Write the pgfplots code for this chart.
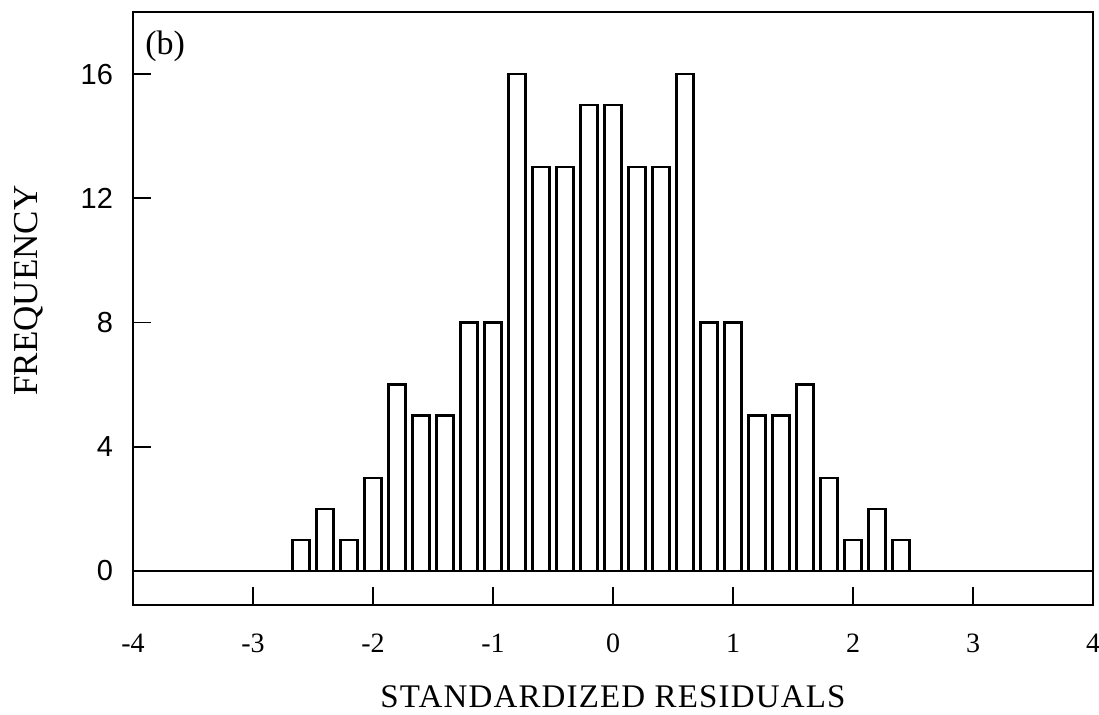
\documentclass[border=0pt]{standalone}
\usepackage{pgfplots}
\pgfplotsset{compat=1.18}
\usetikzlibrary{calc}
\usepackage{fontspec}
\setmainfont{Liberation Serif}
\newfontfamily\sansfont{Liberation Sans}
\pgfplotstableread{
x y
-2.6 1
-2.4 2
-2.2 1
-2.0 3
-1.8 6
-1.6 5
-1.4 5
-1.2 8
-1.0 8
-0.8 16
-0.6 13
-0.4 13
-0.2 15
0.0 15
0.2 13
0.4 13
0.6 16
0.8 8
1.0 8
1.2 5
1.4 5
1.6 6
1.8 3
2.0 1
2.2 2
2.4 1
}\histdata
\begin{document}
\begin{tikzpicture}
\begin{axis}[name=ax,
  width=480pt, height=296.5pt, scale only axis,
  xmin=-4, xmax=4, ymin=-1.1, ymax=18,
  axis line style={line width=1.1pt},
  xtick={-4,-3,...,4},
  xticklabels={-4,-3,-2,-1,0,1,2,3,4},
  ytick={0,4,8,12,16},
  tick pos=left,
  xtick align=inside, ytick align=inside,
  major tick style={line width=0.9pt, black},
  major tick length=9pt,
  /pgf/number format/assume math mode=true,
  yticklabel style={font=\sansfont\fontsize{14.5}{14.5}\selectfont, xshift=-6.5pt},
  xticklabel style={font=\fontsize{14}{14}\selectfont, yshift=-11pt},
  xlabel={\addfontfeatures{LetterSpace=3.5}STANDARDIZED RESIDUALS},
  ylabel={FREQUENCY},
  xlabel style={font=\fontsize{16.5}{16.5}\selectfont, yshift=-9.5pt},
  ylabel style={font=\fontsize{17.5}{17.5}\selectfont, yshift=12pt, xshift=9pt},
]
\addplot[ybar, bar width=0.14, bar shift=0pt, draw=black, fill=white, line width=1.2pt] table[x=x,y=y] {\histdata};
\draw[line width=1.1pt] (axis cs:-4,0) -- (axis cs:4,0);
\node[anchor=north west, font=\fontsize{17}{17}\selectfont, inner sep=0pt] at (axis cs:-3.9,17.4) {(b)};
\end{axis}
\pgfresetboundingbox
\path ($(ax.south west)+(-66.5pt,-54.5pt)$) rectangle ($(ax.north east)+(3pt,6pt)$);
\end{tikzpicture}
\end{document}
